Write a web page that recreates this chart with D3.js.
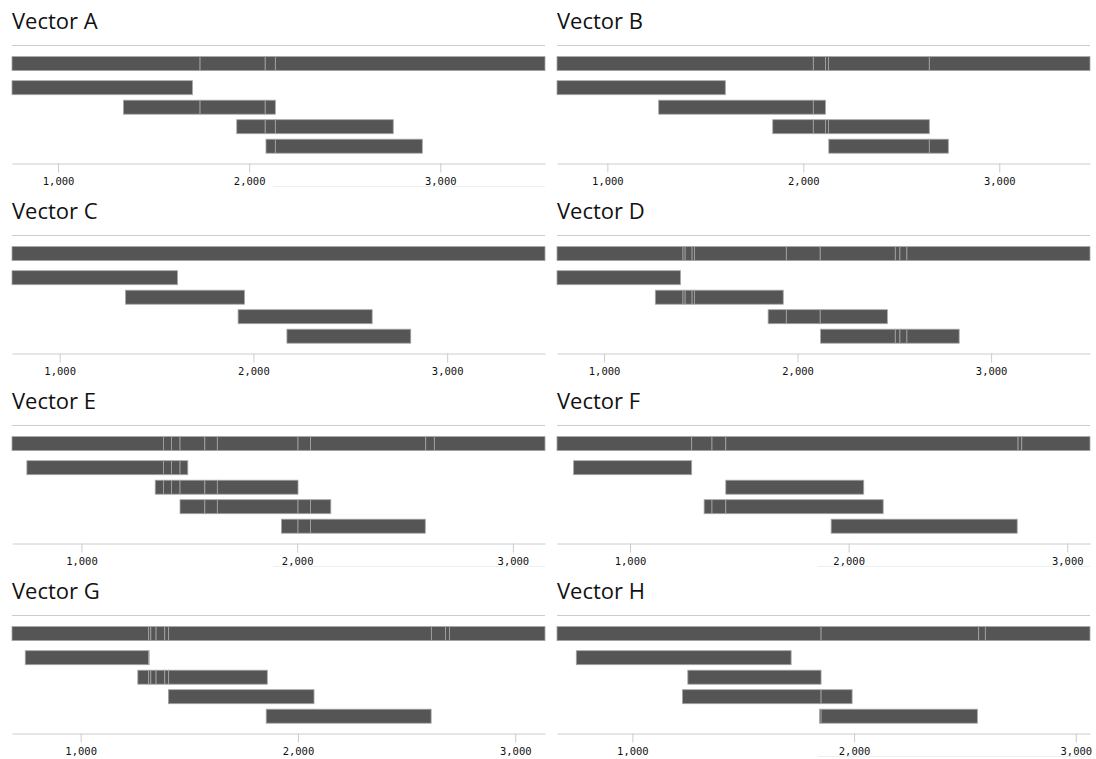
<!DOCTYPE html>
<html>
<head>
<meta charset="utf-8">
<script src="https://cdn.jsdelivr.net/npm/d3@7"></script>
<style>
  body { margin: 0; background: #fff; }
  svg { display: block; }
  .title { font-family: "Open Sans", sans-serif; font-size: 22px; fill: #111; }
  .axis text { font-family: "DejaVu Sans Mono", monospace; font-size: 10.5px; fill: #111; }
  .axis line, .axis path { stroke: #ccc; }
</style>
</head>
<body>
<svg id="chart" width="1096" height="759"></svg>
<script>
// Vector maps: each vector spans [vectorStart, vectorEnd]; four fragments sit below it.
const vectorNames = ["Vector A", "Vector B", "Vector C", "Vector D",
                     "Vector E", "Vector F", "Vector G", "Vector H"];
const vectorStart = [759, 743, 754, 757, 678, 666, 684, 660];
const vectorEnd   = [3548, 3463, 3505, 3511, 3149, 3104, 3137, 3064];

// Fragment start / end positions (bp), four fragments per vector
const fragStart = [
  [759, 1342, 1935, 2088],
  [743, 1262, 1844, 2130],
  [754, 1340, 1921, 2173],
  [757, 1265, 1848, 2119],
  [747, 1342, 1457, 1927],
  [742, 1438, 1339, 1920],
  [745, 1263, 1404, 1854],
  [747, 1250, 1226, 1844]
];
const fragEnd = [
  [1703, 2137, 2754, 2906],
  [1602, 2113, 2643, 2740],
  [1608, 1954, 2613, 2812],
  [1395, 1926, 2464, 2835],
  [1493, 2004, 2156, 2594],
  [1282, 2069, 2158, 2771],
  [1315, 1859, 2074, 2613],
  [1716, 1851, 1991, 2556]
];

// Feature boundaries that split the bars into segments
const boundaries = [
  [1743, 2084, 2137],
  [2051, 2113, 2129, 2643],
  [],
  [1408, 1419, 1455, 1467, 1942, 2117, 2505, 2529, 2565],
  [1380, 1417, 1457, 1572, 1630, 2004, 2062, 2596, 2636],
  [1282, 1375, 1438, 2775, 2792],
  [1313, 1323, 1347, 1387, 1405, 2614, 2679, 2697],
  [1851, 2562, 2592]
];

const tickValues = [1000, 2000, 3000];
const fragRows = [0, 1, 2, 3];
// panels that carry a faint rule beneath their axis
const ruledPanels = [0, 4, 5, 7];

const svg = d3.select("#chart");
const colX = [12, 557];
const panelW = 533;
const rowH = 190;

const yFrag = d3.scaleBand().domain(fragRows).range([80.7, 153.2]).paddingInner(0.282).paddingOuter(0);
const barH = yFrag.bandwidth();

function segments(s, e, cuts) {
  const pts = [s, ...cuts.filter(b => b > s && b < e), e];
  return d3.pairs(pts);
}

vectorNames.forEach((name, i) => {
  const g = svg.append("g")
    .attr("transform", `translate(${colX[i % 2]},${Math.floor(i / 2) * rowH})`);
  const x = d3.scaleLinear().domain([vectorStart[i], vectorEnd[i]]).range([0, panelW]);

  g.append("text").attr("class", "title").attr("x", 0).attr("y", 29).text(name);

  g.append("line")
    .attr("x1", 0).attr("x2", panelW)
    .attr("y1", 45.5).attr("y2", 45.5)
    .attr("stroke", "#ccc").attr("stroke-width", 1);

  const drawBar = (sel, s, e, y) => {
    sel.selectAll(null)
      .data(segments(s, e, boundaries[i]))
      .join("rect")
      .attr("x", d => x(d[0]))
      .attr("width", d => x(d[1]) - x(d[0]))
      .attr("y", y)
      .attr("height", barH)
      .attr("fill", "#555")
      .attr("stroke", "#a6a6a6")
      .attr("stroke-width", 0.8);
  };

  // whole vector
  drawBar(g.append("g"), vectorStart[i], vectorEnd[i], 56.6);

  // fragments
  fragRows.forEach(r => {
    drawBar(g.append("g"), fragStart[i][r], fragEnd[i][r], yFrag(r));
  });

  const axis = g.append("g")
    .attr("class", "axis")
    .attr("transform", "translate(0,163.5)")
    .call(d3.axisBottom(x)
      .tickValues(tickValues)
      .tickFormat(d3.format(","))
      .tickSize(9)
      .tickSizeOuter(0)
      .tickPadding(5));
  axis.select(".domain").attr("stroke", "#ccc");

  if (ruledPanels.includes(i)) {
    g.append("line")
      .attr("x1", 261).attr("x2", panelW)
      .attr("y1", 186.5).attr("y2", 186.5)
      .attr("stroke", "#e8f2f2").attr("stroke-width", 1);
  }
});
</script>
</body>
</html>
